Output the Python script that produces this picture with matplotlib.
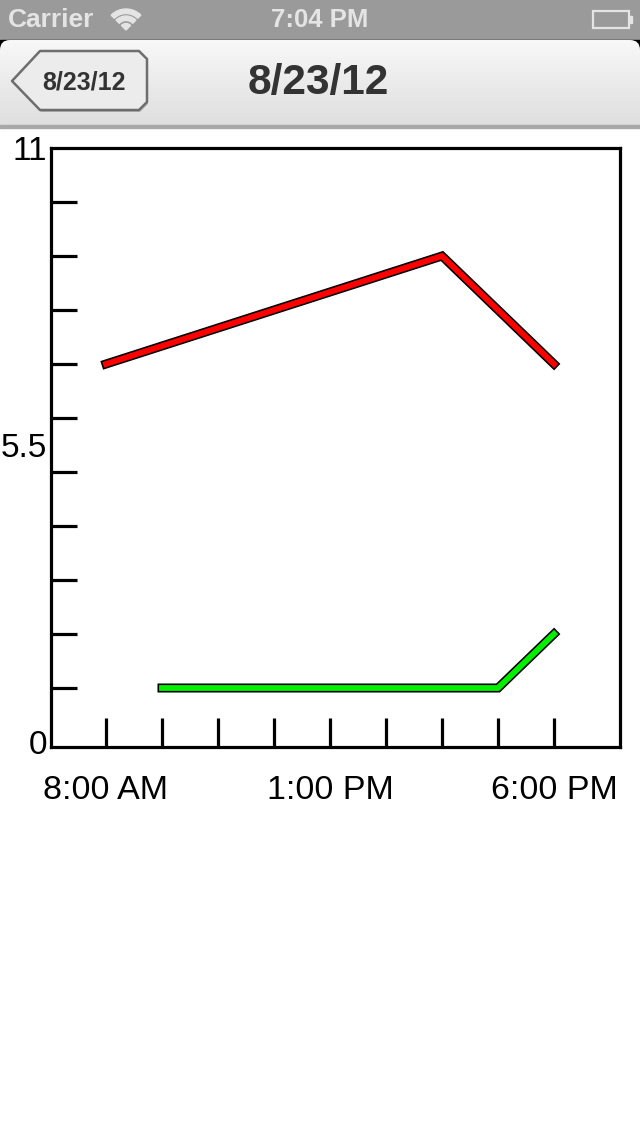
import matplotlib
matplotlib.use("Agg")
import matplotlib.pyplot as plt
import matplotlib.patheffects as pe
from matplotlib.patches import Rectangle, FancyBboxPatch, Polygon, Wedge
from matplotlib.colors import LinearSegmentedColormap
import numpy as np

plt.rcParams['font.family'] = ['Liberation Sans', 'DejaVu Sans']

# ---- data ----
title = "8/23/12"
back_label = "8/23/12"
status_carrier = "Carrier"
status_time = "7:04 PM"

red_hours = [8.0, 15.5, 18.0]
red_values = [7, 9, 7]
green_hours = [9.25, 16.75, 18.0]
green_values = [1, 1, 2]

x_tick_hours = [8.0, 9.25, 10.5, 11.75, 13.0, 14.25, 15.5, 16.75, 18.0]
x_tick_labels = ["8:00 AM", "", "", "", "1:00 PM", "", "", "", "6:00 PM"]
y_major_ticks = [0, 5.5, 11]
y_major_labels = ["0", "5.5", "11"]
y_minor_ticks = [1, 2, 3, 4, 5, 6, 7, 8, 9, 10]

W, H = 640, 1136
fig = plt.figure(figsize=(W / 100, H / 100), dpi=100)
fig.patch.set_facecolor('white')

# ---- background (status + nav bar) in pixel coords ----
bg = fig.add_axes([0, 0, 1, 1])
bg.set_xlim(0, W)
bg.set_ylim(H, 0)
bg.axis('off')

bg.add_patch(Rectangle((0, 0), W, 40, color='#9a9a9a', zorder=1))
bg.add_patch(Rectangle((0, 40), W, 20, color='black', zorder=1))
grad = np.linspace(0, 1, 100).reshape(-1, 1)
cm = LinearSegmentedColormap.from_list('nav', ['#f8f8f8', '#ebebeb', '#dedede'])
nav = FancyBboxPatch((0, 40), W, 120, boxstyle="round,pad=0,rounding_size=10",
                     facecolor='none', edgecolor='none', zorder=2)
bg.add_patch(nav)
im = bg.imshow(grad, extent=(0, W, 127, 40), cmap=cm, aspect='auto', zorder=2)
im.set_clip_path(nav)
bg.add_patch(Rectangle((0, 125), W, 3, color='#a8a8a8', zorder=3))

# status bar text
bg.text(8, 20, status_carrier, fontsize=19, fontweight='bold', color='#e4e4e4',
        ha='left', va='center', zorder=4)
bg.text(320, 20, status_time, fontsize=18.5, fontweight='bold', color='#e4e4e4',
        ha='center', va='center', zorder=4)
# wifi icon (fan pointing up)
for r, w in ((21, 4.5), (14, 4.5), (6.5, 6.5)):
    bg.add_patch(Wedge((126, 30), r, 225, 315, width=w, color='#e4e4e4', zorder=4))
# battery
bg.add_patch(Rectangle((593, 11), 36, 17, fill=False, edgecolor='#e4e4e4', lw=1.6, zorder=4))
bg.add_patch(Rectangle((629, 16), 3, 7, color='#e4e4e4', zorder=4))

# back button
pts = [(12, 81), (40, 51), (139, 51), (147, 59), (147, 102), (139, 110), (40, 110)]
bg.add_patch(Polygon([(x + 1, y + 2) for x, y in pts], closed=True,
                     facecolor='#b5b5b5', edgecolor='none', zorder=3))
bg.add_patch(Polygon(pts, closed=True, facecolor='#ececec', edgecolor='#6e6e6e',
                     lw=1.8, zorder=4, joinstyle='round'))
bg.text(84, 83, back_label, fontsize=18, fontweight='bold', color='#333333',
        ha='center', va='center', zorder=5)
bg.text(318, 83, title, fontsize=30.5, fontweight='bold', color='#333333',
        ha='center', va='center', zorder=5)

# ---- chart ----
left_px, right_px, top_px, bot_px = 51, 620, 148, 747
ax = fig.add_axes([left_px / W, 1 - bot_px / H, (right_px - left_px) / W,
                   (bot_px - top_px) / H])
ax.set_facecolor('white')
px_per_hr = 56 / 1.25
ax.set_xlim(8.0 - (106 - left_px) / px_per_hr, 8.0 + (right_px - 106) / px_per_hr)
ax.set_ylim(-5 / 54, 11)

for s in ax.spines.values():
    s.set_linewidth(2.3)
    s.set_color('black')

ax.set_xticks(x_tick_hours)
ax.set_xticklabels(x_tick_labels)
ax.tick_params(axis='x', direction='in', length=21, width=2.3, pad=20,
               labelsize=24.5, colors='black')
ax.set_yticks(y_major_ticks)
ax.set_yticklabels(y_major_labels)
ax.set_yticks(y_minor_ticks, minor=True)
ax.tick_params(axis='y', which='major', length=0, pad=3, labelsize=24)
ax.tick_params(axis='y', which='minor', direction='in', length=19, width=2.3)

fx = [pe.Stroke(linewidth=6.5, foreground='black'), pe.Normal()]
ax.plot(red_hours, red_values, color='#ff0000', lw=4.2, path_effects=fx,
        solid_joinstyle='miter', zorder=5, clip_on=False)
ax.plot(green_hours, green_values, color='#00f000', lw=4.2, path_effects=fx,
        solid_joinstyle='miter', zorder=5, clip_on=False)

fig.savefig('out.png', dpi=100)
